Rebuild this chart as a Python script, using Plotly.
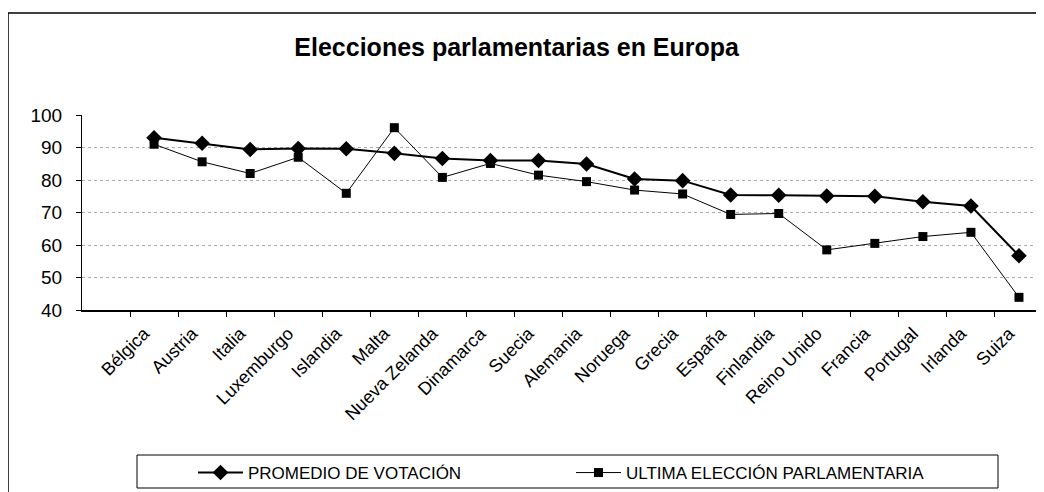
import plotly.graph_objects as go

paises = ["Bélgica", "Austria", "Italia", "Luxemburgo", "Islandia", "Malta",
          "Nueva Zelanda", "Dinamarca", "Suecia", "Alemania", "Noruega", "Grecia",
          "España", "Finlandia", "Reino Unido", "Francia", "Portugal", "Irlanda", "Suiza"]
promedio = [93.0, 91.3, 89.4, 89.7, 89.6, 88.2, 86.6, 86.0, 86.0, 84.9, 80.3, 79.8,
            75.4, 75.3, 75.1, 75.0, 73.3, 72.0, 56.7]
ultima = [91.0, 85.6, 82.0, 87.0, 75.9, 96.1, 80.8, 85.1, 81.5, 79.5, 76.9, 75.7,
          69.4, 69.7, 58.5, 60.5, 62.6, 63.9, 43.9]
y_ticks = [40, 50, 60, 70, 80, 90, 100]

fig = go.Figure()
fig.add_trace(go.Scatter(
    x=paises, y=promedio, name="PROMEDIO DE VOTACIÓN", mode="lines+markers",
    line=dict(color="black", width=2),
    marker=dict(symbol="diamond", size=12, color="black")))
fig.add_trace(go.Scatter(
    x=paises, y=ultima, name="ULTIMA ELECCIÓN PARLAMENTARIA", mode="lines+markers",
    line=dict(color="black", width=1),
    marker=dict(symbol="square", size=9, color="black")))

# page offset of 8px (default body margin) compensated in figure size/margins
W, PL, PT, PH = 961, 82, 115, 195
fig.update_layout(
    width=1036, height=484, autosize=False,
    margin=dict(l=74, r=1, t=107, b=182, autoexpand=False),
    paper_bgcolor="white", plot_bgcolor="white",
    font=dict(family="Arial, Liberation Sans, sans-serif", color="black"),
    title=dict(text="<b>Elecciones parlamentarias en Europa</b>",
               x=0.491, xanchor="center", y=1 - 39 / 484, yanchor="middle",
               yref="container", font=dict(size=25, color="black")),
    xaxis=dict(type="category", categoryorder="array", categoryarray=paises,
               range=[-1.5, 18.5], tickson="boundaries", ticks="outside",
               ticklen=5, tickcolor="black", showline=True, linecolor="black",
               linewidth=2, showgrid=False, tickangle=-45,
               ticklabelshift=-10, ticklabelstandoff=4,
               tickfont=dict(size=18), zeroline=False),
    yaxis=dict(range=[40, 100], tickvals=y_ticks, ticks="outside", ticklen=5,
               tickcolor="black", showline=True, linecolor="black", linewidth=1,
               showgrid=True, gridcolor="#aaaaaa", griddash="dot", gridwidth=1,
               tickfont=dict(size=19), ticklabelstandoff=10, zeroline=False),
    legend=dict(orientation="h", x=(193 - PL) / W, xanchor="left",
                y=(310 - 455) / PH, yanchor="top",
                borderwidth=0, bgcolor="rgba(0,0,0,0)",
                font=dict(size=17), entrywidth=318, entrywidthmode="pixels",
                itemwidth=45),
    shapes=[
        dict(type="line", xref="paper", yref="paper", x0=1, x1=1, y0=0, y1=1,
             line=dict(color="#888888", width=1, dash="dot")),
        dict(type="rect", xref="paper", yref="paper",
             x0=(8 - PL) / W, x1=1.05, y0=-1.2, y1=1 + (PT - 13) / PH,
             line=dict(color="black", width=1.5)),
        dict(type="rect", xref="paper", yref="paper",
             x0=(137 - PL) / W, x1=(998 - PL) / W,
             y0=(310 - 488) / PH, y1=(310 - 455) / PH,
             line=dict(color="black", width=1)),
    ],
)

fig.write_html("out.html")
